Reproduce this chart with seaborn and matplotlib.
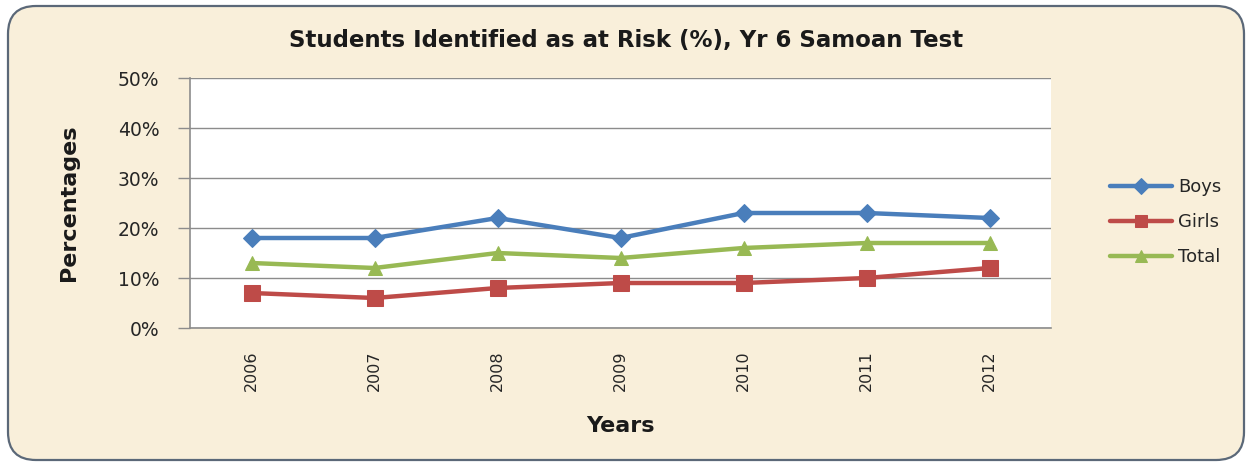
import matplotlib
matplotlib.use("Agg")
import matplotlib.pyplot as plt
from matplotlib.patches import FancyBboxPatch
from matplotlib.ticker import FuncFormatter
import seaborn as sns
import pandas as pd

years = ["2006", "2007", "2008", "2009", "2010", "2011", "2012"]
boys = [18, 18, 22, 18, 23, 23, 22]
girls = [7, 6, 8, 9, 9, 10, 12]
total = [13, 12, 15, 14, 16, 17, 17]
series_names = ["Boys", "Girls", "Total"]

rows = []
for name, vals in zip(series_names, [boys, girls, total]):
    for i, v in enumerate(vals):
        rows.append({"pos": i, "year": years[i], "value": v, "series": name})
df = pd.DataFrame(rows)

sns.set_theme(style="white")
plt.rcParams["font.family"] = ["DejaVu Sans"]

W, H = 1252, 466
bg = "#F9EFDA"
fig = plt.figure(figsize=(W / 100, H / 100), dpi=100)
fig.patch.set_facecolor("white")

# background layer in pixel units holding the rounded chart frame
bg_ax = fig.add_axes([0, 0, 1, 1], zorder=-1)
bg_ax.set_xlim(0, W)
bg_ax.set_ylim(0, H)
bg_ax.axis("off")
frame = FancyBboxPatch((8, 6), W - 16, H - 12,
                       boxstyle="round,pad=0,rounding_size=28",
                       facecolor=bg, edgecolor="#5B6878", linewidth=1.6)
bg_ax.add_patch(frame)

ax = fig.add_axes([190 / W, 1 - 328 / H, 861 / W, 250 / H], zorder=1)
ax.set_facecolor("white")

palette = {"Boys": "#4A7EBB", "Girls": "#BE4B48", "Total": "#98B954"}
markers = {"Boys": "D", "Girls": "s", "Total": "^"}
sizes = {"Boys": 9, "Girls": 11, "Total": 10}

for name in series_names:
    sub = df[df["series"] == name]
    sns.lineplot(data=sub, x="pos", y="value", ax=ax, color=palette[name],
                 linewidth=3.2, marker=markers[name], markersize=sizes[name],
                 markeredgecolor=palette[name], label=name, zorder=3)

ax.set_xlim(-0.5, len(years) - 0.5)
ax.set_ylim(0, 50)
ax.set_yticks([0, 10, 20, 30, 40, 50])
ax.yaxis.set_major_formatter(FuncFormatter(lambda v, p: f"{int(v)}%"))
ax.set_xticks(range(len(years)))
ax.set_xticklabels(years, rotation=90)
ax.grid(axis="y", color="#8C8C8C", linewidth=1.0)
ax.set_axisbelow(True)

for side in ["top", "right"]:
    ax.spines[side].set_visible(False)
for side in ["left", "bottom"]:
    ax.spines[side].set_color("#8C8C8C")
    ax.spines[side].set_linewidth(1.2)

ax.tick_params(axis="y", length=9, color="#8C8C8C", width=1.0, labelsize=13.5,
               labelcolor="#262626", pad=13)
ax.yaxis.set_tick_params(left=True)
ax.tick_params(axis="x", length=0, labelsize=11.5, labelcolor="#262626", pad=16)

ax.set_xlabel("Years", fontsize=16, fontweight="bold", color="#1a1a1a", labelpad=18)
ax.set_ylabel("Percentages", fontsize=16, fontweight="bold", color="#1a1a1a", labelpad=28)

fig.text(0.5, 1 - 40 / H, "Students Identified as at Risk (%), Yr 6 Samoan Test",
         ha="center", va="center", fontsize=16.5, fontweight="bold", color="#1a1a1a")

leg = ax.legend(loc="upper left", bbox_to_anchor=(1.05, 0.665), frameon=False,
                fontsize=13, handlelength=3.4, handletextpad=0.35,
                labelspacing=0.95, markerscale=0.85)
for t in leg.get_texts():
    t.set_color("#262626")

fig.savefig("out.png", dpi=100, facecolor=fig.get_facecolor())
